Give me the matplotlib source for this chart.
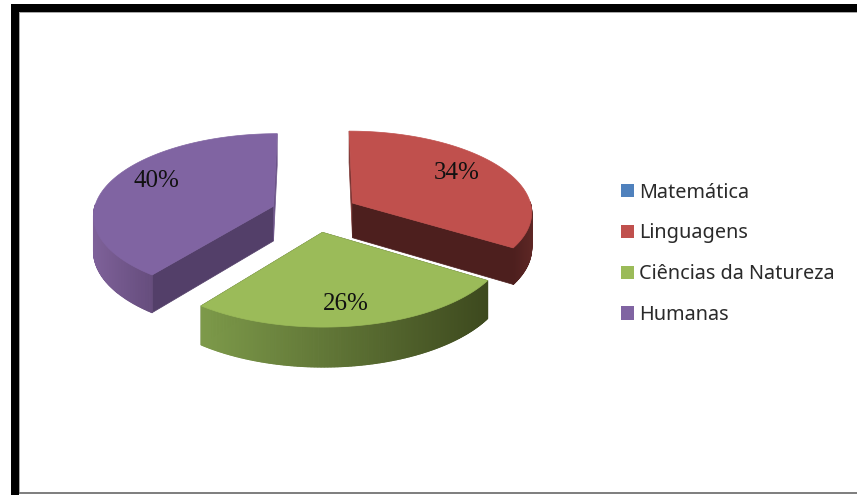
import numpy as np
import matplotlib
matplotlib.use("Agg")
import matplotlib.pyplot as plt
from matplotlib.collections import PolyCollection
from matplotlib.colors import to_rgb
from matplotlib.patches import Patch, Polygon, Rectangle

categories = ["Matemática", "Linguagens", "Ciências da Natureza", "Humanas"]
values = [0.0, 34.0, 26.4, 39.6]

top_colors = ["#4f81bd", "#c0504d", "#9bbb59", "#8064a2"]
start_wall = ["#385d8a", "#7a3432", "#3e4a1f", "#533f69"]
end_wall = ["#385d8a", "#4d1f1e", "#3e4a1f", "#6c5488"]
rim_left = ["#385d8a", "#4d1f1e", "#7d9a4a", "#7e6199"]
rim_right = ["#385d8a", "#5e2725", "#3d491e", "#664d7d"]

W, H = 857, 495
CX, CY, RX, RY, PERSP, EXPLODE, DEPTH = 314.6, 212.5, 180.0, 81.0, 0.10, 0.243, 35.0

fig = plt.figure(figsize=(W / 100, H / 100), dpi=100, facecolor="white")
ax = fig.add_axes([0, 0, 1, 1])
ax.set_xlim(0, W)
ax.set_ylim(H, 0)
ax.axis("off")


def project(px, py, lift=0.0):
    s = 1.0 / (1.0 + PERSP * py)
    return CX + RX * px * s, CY - RY * py * s + lift * s


def wedge_points(a0, a1, lift=0.0):
    mid = np.radians((a0 + a1) / 2)
    ox, oy = EXPLODE * np.sin(mid), EXPLODE * np.cos(mid)
    t = np.radians(np.linspace(a0, a1, 240))
    x, y = project(ox + np.sin(t), oy + np.cos(t), lift)
    ax0, ay0 = project(ox, oy, lift)
    return (ax0, ay0), x, y, np.cos(t)


def mix(c0, c1, f):
    a, b = np.array(to_rgb(c0)), np.array(to_rgb(c1))
    return tuple(a + (b - a) * f)


total = sum(values)
edges = np.concatenate([[0.0], np.cumsum(values)]) * 360.0 / total

for i in [1, 3, 2]:
    a0, a1 = edges[i], edges[i + 1]
    apex, x, y, ct = wedge_points(a0, a1)
    apex_b, xb, yb, _ = wedge_points(a0, a1, DEPTH)

    # the two flat cut faces
    for k, col in ((0, start_wall[i]), (-1, end_wall[i])):
        ax.add_patch(Polygon([apex, (x[k], y[k]), (xb[k], yb[k]), apex_b],
                             closed=True, facecolor=col, edgecolor=col, linewidth=0.5))

    # outer rim, shaded across the visible arc
    front = ct < 0.02
    xmin, xmax = x[front].min(), x[front].max()
    quads, cols = [], []
    for j in np.flatnonzero(front[:-1] & front[1:]):
        quads.append([(x[j], y[j]), (x[j + 1], y[j + 1]), (xb[j + 1], yb[j + 1]), (xb[j], yb[j])])
        cols.append(mix(rim_left[i], rim_right[i], (x[j] - xmin) / (xmax - xmin)))
    ax.add_collection(PolyCollection(quads, facecolors=cols, edgecolors=cols, linewidths=0.8))

    # top face
    ax.add_patch(Polygon(np.column_stack([np.r_[apex[0], x], np.r_[apex[1], y]]),
                         closed=True, facecolor=top_colors[i], edgecolor=top_colors[i], linewidth=0.5))

# percentage labels
label_xy = {1: (457, 173), 2: (346, 303.5), 3: (156.5, 181)}
for i, (lx, ly) in label_xy.items():
    ax.text(lx, ly, f"{values[i] / total * 100:.0f}%", ha="center", va="center",
            family="Liberation Serif", fontsize=18, color="#111111")

# legend
handles = [Patch(facecolor=c, edgecolor="none") for c in top_colors]
ax.legend(handles, categories, loc="upper left", bbox_to_anchor=(621, 182.5), bbox_transform=ax.transData,
          frameon=False, prop={"family": "Noto Sans", "size": 14.3}, labelspacing=1.05,
          handlelength=0.655, handleheight=0.655, handletextpad=0.25, borderpad=0, borderaxespad=0,
          labelcolor="#2a2a2a")

# picture frame
ax.add_patch(Rectangle((11, 4), W - 11, 8, facecolor="black", edgecolor="none"))
ax.add_patch(Rectangle((11, 4), 8, H - 4, facecolor="black", edgecolor="none"))
ax.add_patch(Rectangle((19, 12), W - 19, 1, facecolor="#a8a8a8", edgecolor="none"))
ax.add_patch(Rectangle((19, 12), 1, H - 15, facecolor="#a8a8a8", edgecolor="none"))
ax.add_patch(Rectangle((19, 491.5), W - 19, 2.2, facecolor="#808080", edgecolor="none"))

fig.savefig("out.png", dpi=100, facecolor="white")
